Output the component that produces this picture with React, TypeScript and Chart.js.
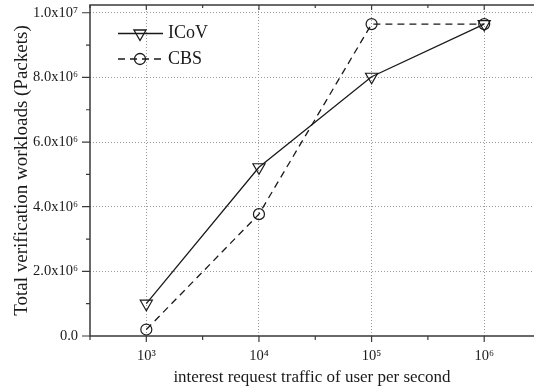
import React, { useEffect, useRef } from "react";
import { Chart, registerables } from "chart.js";
Chart.register(...registerables);

const trafficLevels = [1e3, 1e4, 1e5, 1e6];
const icovWorkloads = [1.0e6, 5.22e6, 8.02e6, 9.65e6];
const cbsWorkloads = [0.2e6, 3.77e6, 9.65e6, 9.65e6];
const seriesNames = ["ICoV", "CBS"];

const xTickValues = [1e3, 1e4, 1e5, 1e6];
const xTickLabels = ["10³", "10⁴", "10⁵", "10⁶"];
const xMinorTicks = [Math.pow(10, 2.5), Math.pow(10, 3.5), Math.pow(10, 4.5), Math.pow(10, 5.5)];
const yTickValues = [0, 2e6, 4e6, 6e6, 8e6, 1e7];
const yTickLabels = ["0.0", "2.0x10⁶", "4.0x10⁶", "6.0x10⁶", "8.0x10⁶", "1.0x10⁷"];
const yMinorTicks = [1e6, 3e6, 5e6, 7e6, 9e6];

const xTitle = "interest request traffic of user per second";
const yTitle = "Total verification workloads (Packets)";

const INK = "#1a1a1a";
const AXIS = "#3a3a3a";
const FONT = "'Liberation Serif', 'Times New Roman', serif";

function drawTriangleDown(ctx: CanvasRenderingContext2D, cx: number, cy: number, r: number) {
  ctx.beginPath();
  ctx.moveTo(cx, cy + r);
  ctx.lineTo(cx - 0.866 * r, cy - 0.5 * r);
  ctx.lineTo(cx + 0.866 * r, cy - 0.5 * r);
  ctx.closePath();
  ctx.stroke();
}

const framePlugin = {
  id: "frame",
  afterDraw(chart: any) {
    const { ctx, chartArea: a, scales } = chart;
    const xs = scales.x;
    const ys = scales.y;
    ctx.save();
    ctx.setLineDash([]);
    ctx.strokeStyle = AXIS;
    ctx.lineWidth = 1.5;
    ctx.beginPath();
    ctx.moveTo(a.left, a.top);
    ctx.lineTo(a.right + 2, a.top);
    ctx.moveTo(a.left, a.top - 0.75);
    ctx.lineTo(a.left, a.bottom + 0.75);
    ctx.moveTo(a.left, a.bottom);
    ctx.lineTo(a.right + 2, a.bottom);
    ctx.stroke();

    ctx.lineWidth = 1.2;
    ctx.beginPath();
    for (const v of yTickValues) {
      const py = ys.getPixelForValue(v);
      ctx.moveTo(a.left - 8, py);
      ctx.lineTo(a.left, py);
    }
    for (const v of yMinorTicks) {
      const py = ys.getPixelForValue(v);
      ctx.moveTo(a.left - 4, py);
      ctx.lineTo(a.left, py);
    }
    for (const v of xTickValues) {
      const px = xs.getPixelForValue(v);
      ctx.moveTo(px, a.bottom);
      ctx.lineTo(px, a.bottom + 6);
      ctx.moveTo(px, a.top);
      ctx.lineTo(px, a.top + 5);
    }
    for (const v of xMinorTicks) {
      const px = xs.getPixelForValue(v);
      ctx.moveTo(px, a.bottom);
      ctx.lineTo(px, a.bottom + 4);
      ctx.moveTo(px, a.top);
      ctx.lineTo(px, a.top + 3);
    }
    ctx.stroke();

    // legend
    const lx0 = a.left + 28;
    const lx1 = a.left + 73;
    const mx = a.left + 50;
    const rows = [a.top + 28.5, a.top + 54];
    ctx.strokeStyle = INK;
    ctx.lineWidth = 1.3;
    chart.data.datasets.forEach((ds: any, i: number) => {
      const yy = rows[i];
      ctx.setLineDash(ds.borderDash || []);
      ctx.beginPath();
      ctx.moveTo(lx0, yy);
      ctx.lineTo(lx1, yy);
      ctx.stroke();
      ctx.setLineDash([]);
      if (ds.pointStyle === "triangle") {
        drawTriangleDown(ctx, mx, yy, ds.pointRadius);
      } else {
        ctx.beginPath();
        ctx.arc(mx, yy, ds.pointRadius, 0, Math.PI * 2);
        ctx.stroke();
      }
      ctx.fillStyle = INK;
      ctx.font = `18px ${FONT}`;
      ctx.textBaseline = "middle";
      ctx.textAlign = "left";
      ctx.fillText(ds.label, lx1 + 5, yy);
    });
    ctx.restore();
  },
};

function zeroPad(scale: any) {
  scale.paddingTop = 0;
  scale.paddingBottom = 0;
  scale.paddingLeft = 0;
  scale.paddingRight = 0;
}

export default function App() {
  const ref = useRef<HTMLCanvasElement>(null);
  useEffect(() => {
    document.body.style.margin = "0";
    const chart = new Chart(ref.current!, {
      type: "line",
      data: {
        datasets: [
          {
            label: seriesNames[0],
            data: trafficLevels.map((x, i) => ({ x, y: icovWorkloads[i] })),
            borderColor: INK,
            borderWidth: 1.3,
            pointStyle: "triangle",
            rotation: 180,
            pointRadius: 7,
            pointBorderWidth: 1.2,
            pointBackgroundColor: "rgba(0,0,0,0)",
            pointBorderColor: INK,
            tension: 0,
          } as any,
          {
            label: seriesNames[1],
            data: trafficLevels.map((x, i) => ({ x, y: cbsWorkloads[i] })),
            borderColor: INK,
            borderWidth: 1.3,
            borderDash: [7, 5],
            pointStyle: "circle",
            pointRadius: 5.5,
            pointBorderWidth: 1.2,
            pointBackgroundColor: "rgba(0,0,0,0)",
            pointBorderColor: INK,
            tension: 0,
          } as any,
        ],
      },
      options: {
        animation: false,
        responsive: false,
        layout: { autoPadding: false, padding: { top: 5, left: 0, right: 0, bottom: 0 } },
        plugins: { legend: { display: false }, tooltip: { enabled: false } },
        scales: {
          x: {
            type: "logarithmic",
            min: Math.pow(10, 2.5),
            max: Math.pow(10, 6.442),
            afterBuildTicks: (s: any) => {
              s.ticks = xTickValues.map((v) => ({ value: v }));
            },
            afterFit: (s: any) => {
              s.height = 53;
              zeroPad(s);
            },
            ticks: {
              autoSkip: false,
              maxRotation: 0,
              padding: 11,
              color: INK,
              font: { family: FONT, size: 14.5 },
              callback: (_v: any, i: number) => xTickLabels[i],
            },
            grid: {
              drawTicks: false,
              color: "#9a9a9a",
              lineWidth: 1,
            },
            border: { display: false, dash: [1, 2] },
            title: {
              display: true,
              text: xTitle,
              color: INK,
              font: { family: FONT, size: 17, lineHeight: 1 },
              padding: { top: 0, bottom: 2.5 },
            },
          },
          y: {
            type: "linear",
            min: 0,
            max: 1.024e7,
            afterBuildTicks: (s: any) => {
              s.ticks = yTickValues.map((v) => ({ value: v }));
            },
            afterFit: (s: any) => {
              s.width = 90;
              zeroPad(s);
            },
            ticks: {
              autoSkip: false,
              padding: 12,
              color: INK,
              font: { family: FONT, size: 14.5 },
              callback: (_v: any, i: number) => yTickLabels[i],
            },
            grid: {
              drawTicks: false,
              color: (c: any) => (c.tick && c.tick.value === 0 ? "rgba(0,0,0,0)" : "#9a9a9a"),
              lineWidth: 1,
            },
            border: { display: false, dash: [1, 2] },
            title: {
              display: true,
              text: yTitle,
              color: INK,
              font: { family: FONT, size: 19, lineHeight: 1 },
              padding: { top: 13, bottom: 0 },
            },
          },
        },
      } as any,
      plugins: [framePlugin],
    });
    return () => chart.destroy();
  }, []);
  return (
    <div style={{ position: "fixed", left: 0, top: 0, width: 534, height: 389 }}>
      <canvas ref={ref} width={534} height={389} style={{ display: "block", width: 534, height: 389 }} />
    </div>
  );
}
